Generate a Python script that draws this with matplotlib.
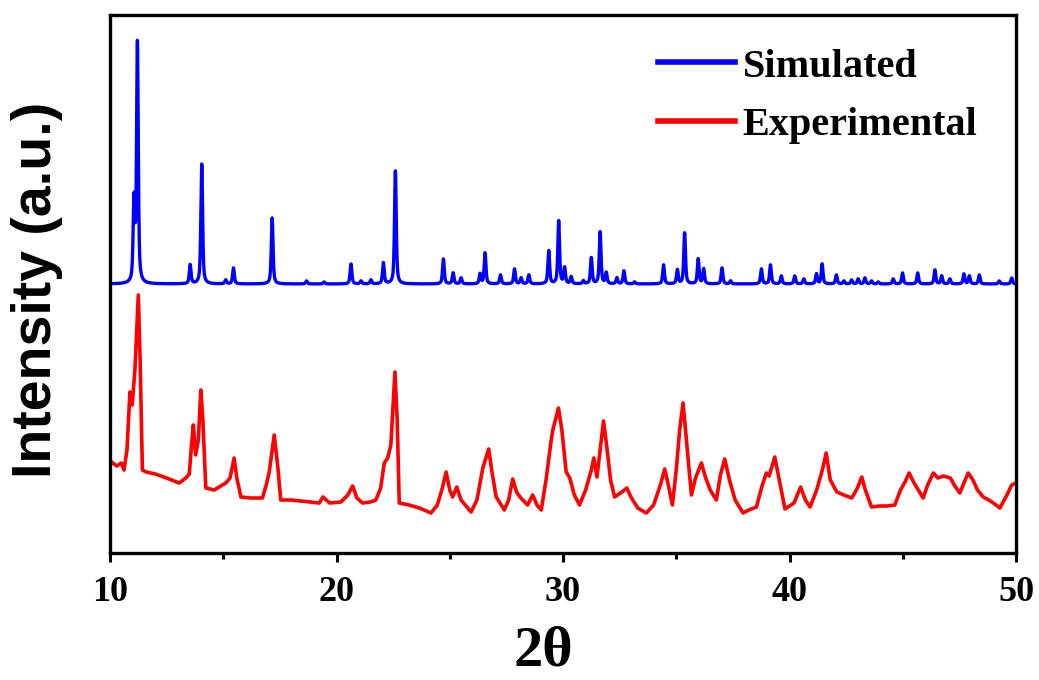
import numpy as np
import matplotlib
matplotlib.use('Agg')
import matplotlib.pyplot as plt

# simulated pattern: peak positions (2theta) and peak heights (a.u.)
sim_pos = [11.06, 11.21, 13.54, 14.05, 15.11, 15.45, 17.16, 18.68, 19.45, 20.64,
           21.08, 21.52, 22.07, 22.60, 24.72, 25.15, 25.50, 26.34, 26.56, 27.24,
           27.86, 28.15, 28.49, 29.37, 29.81, 30.07, 30.36, 30.90, 31.25, 31.64,
           31.91, 32.38, 32.69, 33.16, 34.44, 35.05, 35.37, 35.97, 36.21, 37.02,
           37.40, 38.76, 39.16, 39.64, 40.23, 40.63, 41.19, 41.44, 42.07, 42.40,
           42.74, 43.03, 43.33, 43.62, 43.92, 44.58, 44.99, 45.66, 46.42, 46.72,
           47.08, 47.70, 47.94, 48.38, 49.26, 49.81]
sim_height = [80, 240, 19, 120, 4, 16, 66, 3, 2, 20,
              3, 4, 21, 113, 25, 11, 6, 10, 31, 9,
              15, 6, 9, 33, 63, 16, 7, 3, 26, 52,
              11, 6, 13, 2, 19, 14, 51, 25, 15, 16,
              3, 15, 19, 8, 8, 5, 10, 20, 9, 3,
              4, 5, 6, 3, 2, 5, 11, 11, 14, 8,
              5, 10, 8, 9, 3, 6]
sim_offset = 269

# experimental pattern
exp_x = [10.00, 10.07, 10.30, 10.50, 10.62, 10.75, 10.88, 10.98, 11.10, 11.25,
         11.33, 11.43, 11.60, 12.00, 12.50, 13.05, 13.35, 13.50, 13.60, 13.68,
         13.78, 13.90, 14.01, 14.10, 14.23, 14.60, 15.11, 15.30, 15.48, 15.60,
         15.78, 16.20, 16.73, 16.90, 17.03, 17.25, 17.40, 17.54, 18.00, 18.80,
         19.24, 19.40, 19.70, 20.20, 20.50, 20.71, 20.90, 21.15, 21.50, 21.74,
         21.95, 22.11, 22.26, 22.40, 22.58, 22.68, 22.77, 23.20, 23.66, 24.17,
         24.45, 24.65, 24.84, 25.00, 25.13, 25.31, 25.50, 25.94, 26.20, 26.46,
         26.72, 26.85, 27.05, 27.41, 27.60, 27.78, 27.95, 28.10, 28.44, 28.66,
         28.85, 29.04, 29.25, 29.48, 29.55, 29.80, 29.95, 30.14, 30.30, 30.50,
         30.73, 31.00, 31.25, 31.36, 31.50, 31.79, 31.95, 32.10, 32.28, 32.60,
         32.82, 33.00, 33.30, 33.68, 34.00, 34.30, 34.49, 34.65, 34.83, 35.00,
         35.15, 35.30, 35.45, 35.67, 35.85, 36.11, 36.30, 36.50, 36.77, 36.95,
         37.14, 37.35, 37.60, 37.95, 38.20, 38.54, 38.80, 38.98, 39.10, 39.35,
         39.55, 39.80, 40.20, 40.49, 40.70, 40.91, 41.20, 41.45, 41.62, 41.80,
         42.09, 42.40, 42.75, 43.00, 43.19, 43.35, 43.62, 44.00, 44.30, 44.65,
         44.90, 45.10, 45.28, 45.50, 45.90, 46.10, 46.35, 46.55, 46.80, 47.10,
         47.30, 47.52, 47.70, 47.89, 48.10, 48.30, 48.55, 48.80, 49.00, 49.29,
         49.60, 49.81, 50.00]
exp_y = [88, 91, 87, 90, 83, 103, 161, 148, 183, 258,
         193, 83, 81, 79, 75, 70, 75, 79, 108, 128,
         98, 113, 163, 133, 65, 63, 70, 75, 95, 75,
         56, 55, 55, 68, 81, 118, 88, 53, 53, 51,
         50, 56, 50, 51, 58, 67, 55, 50, 51, 53,
         65, 90, 95, 108, 181, 133, 50, 48, 45, 40,
         48, 63, 81, 63, 56, 66, 53, 41, 53, 85,
         104, 83, 56, 43, 53, 74, 61, 56, 48, 58,
         48, 43, 73, 113, 123, 145, 123, 81, 75, 58,
         48, 63, 83, 95, 76, 132, 103, 73, 56, 61,
         65, 56, 45, 40, 48, 68, 84, 68, 48, 83,
         123, 150, 113, 58, 75, 90, 75, 63, 53, 78,
         94, 73, 53, 40, 43, 46, 68, 80, 77, 96,
         73, 44, 50, 66, 53, 46, 63, 83, 100, 73,
         61, 58, 55, 65, 76, 63, 46, 47, 47, 48,
         63, 71, 80, 70, 55, 68, 80, 75, 77, 75,
         67, 60, 70, 80, 73, 63, 56, 53, 50, 45,
         58, 68, 70]

xticks = [10, 20, 30, 40, 50]


def pseudo_voigt(x, pos, height, fwhm=0.09, eta=0.6):
    d = (x - pos) / (fwhm / 2.0)
    lor = 1.0 / (1.0 + d ** 2)
    gau = np.exp(-np.log(2) * d ** 2)
    return height * (eta * lor + (1 - eta) * gau)


tt = np.arange(10.0, 50.0001, 0.004)
sim = np.full_like(tt, sim_offset, dtype=float)
for p, h in zip(sim_pos, sim_height):
    sim += pseudo_voigt(tt, p, h)

fig = plt.figure(figsize=(10.39, 6.8), dpi=100)
ax = fig.add_axes([110 / 1039, 1 - 553 / 680, 906 / 1039, 538 / 680])

ax.plot(tt, sim, color='#0000ff', lw=2.4, label='Simulated')
ax.plot(exp_x, exp_y, color='#ff0000', lw=2.6, label='Experimental')

ax.set_xlim(10, 50)
ax.set_ylim(0, 538)
ax.set_xticks(xticks)
ax.set_xticks(np.arange(15, 50, 10), minor=True)
ax.set_yticks([])
ax.tick_params(axis='x', which='major', direction='out', length=6.5, width=2.2, pad=10)
ax.tick_params(axis='x', which='minor', direction='out', length=4, width=2.2)
for s in ax.spines.values():
    s.set_linewidth(2.4)

for lab in ax.get_xticklabels():
    lab.set_fontfamily('Liberation Serif')
    lab.set_fontweight('bold')
    lab.set_fontsize(26)

ax.set_xlabel('2\u03b8', fontfamily='Liberation Serif', fontweight='bold',
              fontsize=42)
ax.xaxis.set_label_coords(0.478, -0.134)
ax.set_ylabel('Intensity (a.u.)', fontfamily='Liberation Sans', fontweight='bold',
              fontsize=40)
ax.yaxis.set_label_coords(-0.052, 0.489)

ax.legend(loc='upper left', bbox_to_anchor=(0.605, 0.938), frameon=False,
          borderpad=0, borderaxespad=0, handlelength=1.9, handletextpad=0.2,
          labelspacing=0.52,
          prop={'family': 'Liberation Serif', 'weight': 'bold', 'size': 29})
leg = ax.get_legend()
for line in leg.get_lines():
    line.set_linewidth(4)

fig.savefig('out.png', dpi=100)
